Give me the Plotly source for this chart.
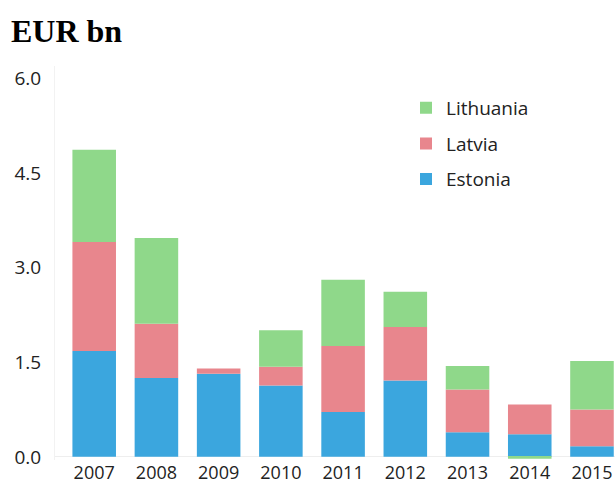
import plotly.graph_objects as go

years = ["2007", "2008", "2009", "2010", "2011", "2012", "2013", "2014", "2015"]
estonia = [1.68, 1.25, 1.32, 1.13, 0.71, 1.21, 0.39, 0.36, 0.17]
latvia = [1.73, 0.86, 0.08, 0.30, 1.05, 0.85, 0.68, 0.47, 0.58]
lithuania = [1.46, 1.36, 0.00, 0.58, 1.05, 0.56, 0.37, -0.03, 0.77]

y_ticks = [0.0, 1.5, 3.0, 4.5, 6.0]
y_tick_text = ["0.0", "1.5", "3.0", "4.5", "6.0"]

colors = {"Estonia": "#3ba6de", "Latvia": "#e8868d", "Lithuania": "#8fd88a"}

fig = go.Figure()
# stacked bottom-up; legend lists them top-down
for rank, (name, vals) in zip([3, 2, 1], [("Estonia", estonia), ("Latvia", latvia), ("Lithuania", lithuania)]):
    fig.add_trace(go.Bar(
        x=list(range(len(years))), y=vals, name=name,
        marker=dict(color=colors[name], line=dict(width=0)),
        width=0.7, legendgroup=name, legendrank=rank,
    ))

fig.update_layout(
    barmode="relative",
    width=615, height=484,
    margin=dict(l=55, r=0, t=66, b=21),
    paper_bgcolor="white", plot_bgcolor="white",
    font=dict(family="Open Sans", size=16, color="#222"),
    showlegend=True,
    legend=dict(
        x=(406 - 55) / 560, y=1 - (89 - 66) / 397, xanchor="left", yanchor="top",
        traceorder="grouped", tracegroupgap=8,
        font=dict(family="Open Sans", size=19, color="#222"),
        itemwidth=30, bgcolor="rgba(0,0,0,0)",
    ),
)
fig.add_annotation(
    text="<b>EUR bn</b>", xref="paper", yref="paper",
    x=-46 / 560, y=1 + (66 - 31) / 397, xanchor="left", yanchor="middle",
    showarrow=False,
    font=dict(family="Liberation Serif", size=32, color="black"),
)

fig.update_xaxes(
    range=[-0.63, 8.37],
    tickvals=list(range(len(years))), ticktext=years,
    showgrid=False, zeroline=False, showline=False,
    ticks="", tickfont=dict(size=18, color="#222"),
)
fig.update_yaxes(
    range=[-0.05, 6.2],
    tickvals=y_ticks, ticktext=y_tick_text,
    showgrid=False, zeroline=True, zerolinecolor="#eeeeee", zerolinewidth=1,
    showline=True, linecolor="#f2f2f2", linewidth=1,
    ticks="", ticklabelstandoff=9,
    tickfont=dict(size=19, color="#222"),
)

fig.write_html("out.html")
